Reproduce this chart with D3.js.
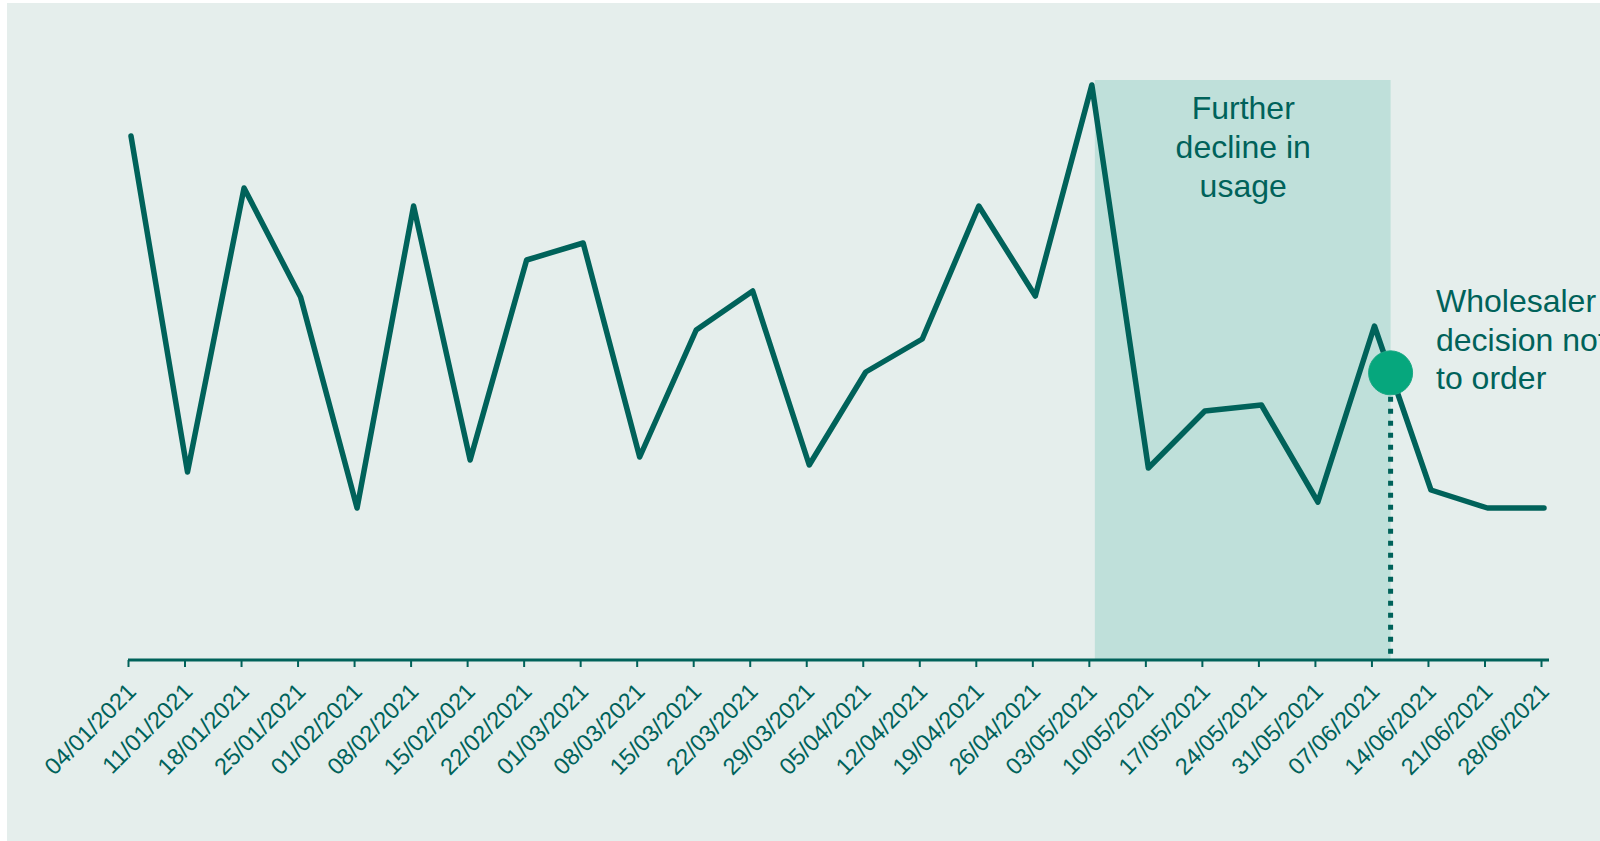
<!DOCTYPE html>
<html>
<head>
  <meta charset="UTF-8">
  <title>Weekly usage</title>
  <script src="https://d3js.org/d3.v7.min.js"></script>
  <style>
    body { margin: 0; background: #fff; }
    text { font-family: "Liberation Sans", Arial, sans-serif; fill: #00625a; }
  </style>
</head>
<body>

<div class="chart"></div>

<script>

  // week commencing labels
  var weeks = ['04/01/2021', '11/01/2021', '18/01/2021', '25/01/2021', '01/02/2021', '08/02/2021',
    '15/02/2021', '22/02/2021', '01/03/2021', '08/03/2021', '15/03/2021', '22/03/2021', '29/03/2021',
    '05/04/2021', '12/04/2021', '19/04/2021', '26/04/2021', '03/05/2021', '10/05/2021', '17/05/2021',
    '24/05/2021', '31/05/2021', '07/06/2021', '14/06/2021', '21/06/2021', '28/06/2021'];

  // usage (no axis shown)
  var usage = [52.4, 18.8, 47.2, 36.3, 15.2, 45.4, 20.0, 40.0, 41.7, 20.3, 33.0, 36.9, 19.5,
    28.8, 32.1, 45.4, 36.4, 57.5, 19.2, 24.9, 25.5, 15.8, 33.4, 17.0, 15.2, 15.2];

  var bandStart = '03/05/2021';
  var decisionDate = '09/06/2021';
  var bandTop = 58;
  var bandLabel = ['Further', 'decline in', 'usage'];
  var decisionLabel = ['Wholesaler', 'decision not', 'to order'];

  var W = 1600, H = 841;
  var ink = '#00625a';

  var parse = d3.timeParse('%d/%m/%Y');
  var data = weeks.map((w, i) => ({ date: parse(w), value: usage[i] }));

  var svg = d3.select('.chart')
    .append('svg')
      .attr('width', W)
      .attr('height', H);

  svg.append('rect')
    .attr('x', 7).attr('y', 3)
    .attr('width', W - 7).attr('height', H - 3)
    .attr('fill', '#e5eeec');

  var xScale = d3.scaleTime()
    .domain(d3.extent(data, d => d.date))
    .range([131, 1544]);

  var yScale = d3.scaleLinear()
    .domain([0, 60])
    .range([660, 60]);

  // shaded period
  var b0 = xScale(parse(bandStart)), b1 = xScale(parse(decisionDate));
  svg.append('rect')
    .attr('x', b0 + 3)
    .attr('y', yScale(bandTop))
    .attr('width', b1 - b0 - 3)
    .attr('height', yScale(0) - yScale(bandTop))
    .attr('fill', '#bfe0da');

  svg.append('text')
    .attr('x', (b0 + b1) / 2 + 2)
    .attr('y', 119)
    .attr('text-anchor', 'middle')
    .style('font-size', '32px')
    .selectAll('tspan')
    .data(bandLabel)
    .enter()
    .append('tspan')
      .attr('x', (b0 + b1) / 2 + 2)
      .attr('dy', (d, i) => i ? 39 : 0)
      .text(d => d);

  // x axis
  var axis = svg.append('g')
    .attr('transform', `translate(-3, ${yScale(0)})`)
    .call(d3.axisBottom(xScale)
      .tickValues(data.map(d => d.date))
      .tickFormat(d3.timeFormat('%d/%m/%Y'))
      .tickSize(7)
      .tickSizeOuter(0));

  axis.select('.domain').remove();
  axis.append('line')
    .attr('x1', xScale.range()[0])
    .attr('x2', xScale.range()[1] + 8)
    .attr('stroke', ink)
    .attr('stroke-width', 3);
  axis.selectAll('.tick line')
    .attr('stroke', ink)
    .attr('stroke-width', 2);
  axis.selectAll('.tick text')
    .attr('x', 0).attr('y', 0).attr('dy', 0)
    .attr('text-anchor', 'end')
    .attr('transform', 'translate(9, 33) rotate(-45)')
    .style('font-family', '"Liberation Sans", Arial, sans-serif')
    .style('font-size', '23.5px')
    .attr('fill', ink);

  // decision marker, sits on the line
  var dd = parse(decisionDate);
  var k = d3.bisector(d => d.date).left(data, dd);
  var t = (dd - data[k - 1].date) / (data[k].date - data[k - 1].date);
  var dv = data[k - 1].value + t * (data[k].value - data[k - 1].value);

  svg.append('line')
    .attr('x1', xScale(dd)).attr('x2', xScale(dd))
    .attr('y1', yScale(dv)).attr('y2', yScale(0) - 2)
    .attr('stroke', ink)
    .attr('stroke-width', 5)
    .attr('stroke-dasharray', '5,7');

  var line = d3.line()
    .x(d => xScale(d.date))
    .y(d => yScale(d.value));

  svg.append('path')
    .datum(data)
    .attr('d', line)
    .style('fill', 'none')
    .style('stroke', ink)
    .style('stroke-width', 5.5)
    .style('stroke-linejoin', 'round')
    .style('stroke-linecap', 'round');

  svg.append('circle')
    .attr('cx', xScale(dd))
    .attr('cy', yScale(dv))
    .attr('r', 22)
    .attr('fill', '#06a77d')
    .attr('stroke', '#1aa884')
    .attr('stroke-width', 1);

  svg.append('text')
    .attr('x', 1436)
    .attr('y', 312)
    .style('font-size', '32px')
    .selectAll('tspan')
    .data(decisionLabel)
    .enter()
    .append('tspan')
      .attr('x', 1436)
      .attr('dy', (d, i) => i ? 38.5 : 0)
      .text(d => d);

</script>

</body>
</html>
